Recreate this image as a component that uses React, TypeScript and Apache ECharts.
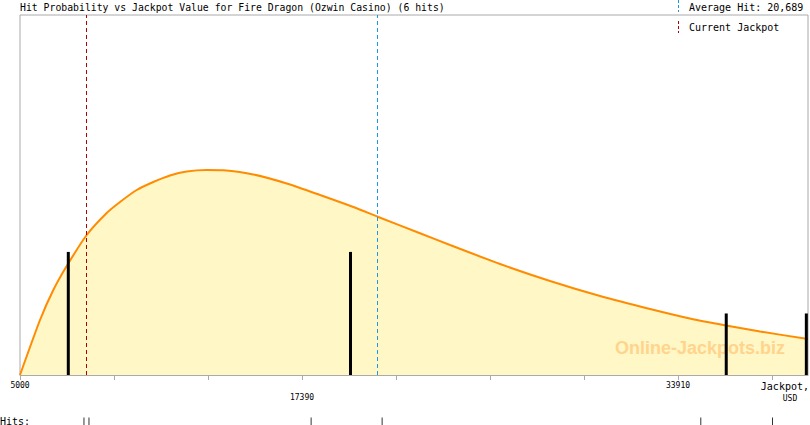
import React, { useEffect, useRef } from 'react';
import * as echarts from 'echarts';

const titleText = 'Hit Probability vs Jackpot Value for Fire Dragon (Ozwin Casino) (6 hits)';

// Probability curve (relative density) vs jackpot value, USD
const curveJackpot = [5000, 5879, 6463, 7052, 7930, 8809, 9394, 10127, 10857, 11590, 12324, 13203, 13932, 15250, 16718, 18181, 19644, 20742, 22574, 23893, 26089, 28286, 30483, 32680, 34525, 36019, 37513, 39622];
const curveProbability = [0, 55, 85, 109, 140, 162, 173, 185, 193, 199.5, 203.5, 205, 204.7, 200.5, 191.5, 180, 168, 158, 141.7, 130, 111, 94, 79, 66, 56, 49.5, 43.5, 36];

// Histogram of hits
const binJackpot = [7122, 19521, 36028, 39547];
const binHits = [2, 2, 1, 1];

// Individual hits
const hitJackpots = [7810, 8030, 17790, 20910, 34910, 38060];

const averageHit = 20689;
const currentJackpot = 7930;

const tickValues = [5000, 9130, 13260, 17390, 21520, 25650, 29780, 33910, 38040];
const upperLabels = [5000, 33910];
const lowerLabels = [17390];
const xMin = 5000;
const xMax = 39620;

const MONO = '"DejaVu Sans Mono", "Liberation Mono", monospace';

export default function App() {
  const ref = useRef<HTMLDivElement>(null);
  useEffect(() => {
    if (!ref.current) return;
    const chart = echarts.init(ref.current, undefined, { renderer: 'svg' });
    const gray = '#AAAAAA';
    const blue = '#1E96E6';
    const red = '#B00000';
    const vline = (value: number, color: string) => ({
      type: 'line',
      xAxisIndex: 0,
      yAxisIndex: 0,
      data: [],
      color,
      markLine: {
        silent: true,
        symbol: ['none', 'none'],
        label: { show: false },
        lineStyle: { color, type: [4, 3], width: 1, opacity: 1 },
        emphasis: { disabled: true },
        data: [{ xAxis: value }],
      },
      z: 3,
    });
    chart.setOption({
      animation: false,
      backgroundColor: '#ffffff',
      title: {
        text: titleText,
        left: 20,
        top: 2,
        padding: 0,
        textStyle: { fontFamily: MONO, fontSize: 9.8, fontWeight: 'normal', color: '#000' },
      },
      grid: [
        { left: 20, top: 15, width: 788, height: 360, show: true, borderColor: gray, borderWidth: 1, backgroundColor: 'transparent' },
        { left: 20, top: 418, width: 788, height: 8 },
      ],
      xAxis: [
        {
          type: 'value', gridIndex: 0, min: xMin, max: xMax,
          axisLine: { show: true, lineStyle: { color: gray, width: 1 } },
          axisTick: { show: true, length: 5, lineStyle: { color: gray }, customValues: tickValues },
          axisLabel: { show: true, customValues: upperLabels, margin: 6, fontFamily: MONO, fontSize: 8, color: '#000', showMinLabel: true, showMaxLabel: true, formatter: (v: number) => String(v) },
          splitLine: { show: false },
        },
        {
          type: 'value', gridIndex: 0, min: xMin, max: xMax, position: 'bottom',
          axisLine: { show: false },
          axisTick: { show: false },
          axisLabel: { show: true, customValues: lowerLabels, margin: 18, fontFamily: MONO, fontSize: 8, color: '#000', formatter: (v: number) => String(v) },
          splitLine: { show: false },
        },
        {
          type: 'value', gridIndex: 1, min: xMin, max: xMax, show: false,
        },
      ],
      yAxis: [
        { type: 'value', gridIndex: 0, min: 0, max: 360, show: false },
        { type: 'value', gridIndex: 0, min: 0, max: 5.85, show: false },
        { type: 'value', gridIndex: 1, min: 0, max: 1, show: false },
      ],
      series: [
        {
          type: 'line',
          xAxisIndex: 0,
          yAxisIndex: 0,
          data: curveJackpot.map((x, i) => [x, curveProbability[i]]),
          smooth: 0.2,
          symbol: 'none',
          lineStyle: { color: '#FF8C00', width: 2 },
          areaStyle: { color: '#FFF7C6', opacity: 1 },
          z: 2,
        },
        vline(currentJackpot, red),
        vline(averageHit, blue),
        {
          type: 'bar',
          xAxisIndex: 0,
          yAxisIndex: 1,
          data: binJackpot.map((x, i) => [x, binHits[i]]),
          barWidth: 3,
          itemStyle: { color: '#000' },
          z: 4,
        },
        {
          type: 'scatter',
          xAxisIndex: 2,
          yAxisIndex: 2,
          data: hitJackpots.map((x) => [x, 0.5]),
          symbol: 'rect',
          symbolSize: [1, 8],
          itemStyle: { color: '#000' },
        },
      ],
      graphic: [
        { type: 'line', shape: { x1: 678.5, y1: 0, x2: 678.5, y2: 12 }, style: { stroke: blue, lineWidth: 1, lineDash: [3, 2] } },
        { type: 'text', x: 689, y: 7, style: { text: 'Average Hit: ' + averageHit.toLocaleString('en-US'), font: '10px ' + MONO, fill: '#000', textVerticalAlign: 'middle' } },
        { type: 'line', shape: { x1: 678.5, y1: 21, x2: 678.5, y2: 33 }, style: { stroke: red, lineWidth: 1, lineDash: [3, 2] } },
        { type: 'text', x: 689, y: 27, style: { text: 'Current Jackpot', font: '10px ' + MONO, fill: '#000', textVerticalAlign: 'middle' } },
        { type: 'text', x: 809, y: 386, style: { text: 'Jackpot,', font: '10px ' + MONO, fill: '#000', textAlign: 'right', textVerticalAlign: 'middle' } },
        { type: 'text', x: 790, y: 398, style: { text: 'USD', font: '8px ' + MONO, fill: '#000', textAlign: 'center', textVerticalAlign: 'middle' } },
        { type: 'text', x: 0, y: 421, style: { text: 'Hits:', font: '10px ' + MONO, fill: '#000', textVerticalAlign: 'middle' } },
        { type: 'text', x: 700, y: 348, z: 3, style: { text: 'Online-Jackpots.biz', font: 'bold 18px "Liberation Sans", Arial, sans-serif', fill: '#FFD48C', textAlign: 'center', textVerticalAlign: 'middle' } },
      ],
    });
    return () => chart.dispose();
  }, []);
  return <div ref={ref} style={{ position: 'fixed', left: 0, top: 0, width: 810, height: 425 }} />;
}
